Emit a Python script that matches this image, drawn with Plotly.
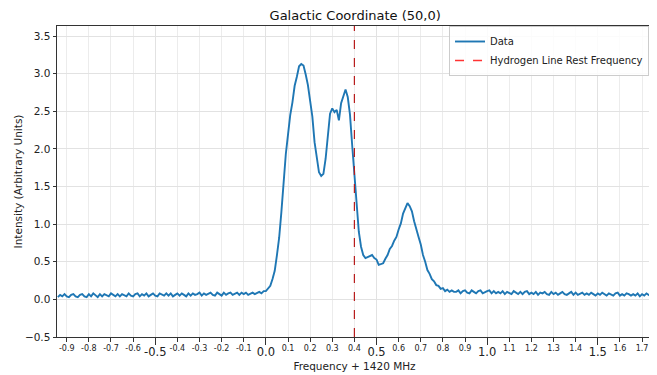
import numpy as np
import plotly.graph_objects as go

# ---- data ----
freq_start = -0.94
freq_step = 0.01
intensity = [
    # -0.94 .. -0.05
    0.03, 0.06, 0.04, 0.07, 0.04, 0.03, 0.06, 0.07, 0.04, 0.03,
    0.06, 0.07, 0.04, 0.03, 0.07, 0.04, 0.08, 0.05, 0.03, 0.07,
    0.04, 0.07, 0.05, 0.04, 0.08, 0.06, 0.04, 0.07, 0.04, 0.07,
    0.06, 0.04, 0.08, 0.05, 0.04, 0.07, 0.08, 0.04, 0.07, 0.05,
    0.08, 0.04, 0.06, 0.08, 0.05, 0.04, 0.08, 0.06, 0.05, 0.08,
    0.05, 0.08, 0.04, 0.06, 0.08, 0.05, 0.08, 0.06, 0.04, 0.08,
    0.05, 0.08, 0.06, 0.07, 0.09, 0.05, 0.08, 0.06, 0.07, 0.09,
    0.06, 0.05, 0.09, 0.07, 0.05, 0.09, 0.06, 0.08, 0.09, 0.06,
    0.07, 0.09, 0.06, 0.09, 0.07, 0.09, 0.06, 0.08, 0.09, 0.07,
    # -0.04 .. 0.85
    0.08, 0.10, 0.08, 0.11, 0.11, 0.15, 0.18, 0.27, 0.38, 0.59,
    0.82, 1.16, 1.57, 1.93, 2.19, 2.45, 2.62, 2.84, 2.96, 3.10,
    3.13, 3.11, 2.99, 2.85, 2.64, 2.43, 2.09, 1.85, 1.69, 1.64,
    1.67, 1.87, 2.19, 2.47, 2.54, 2.49, 2.52, 2.38, 2.61, 2.71,
    2.79, 2.69, 2.46, 2.05, 1.62, 1.25, 0.90, 0.70, 0.59, 0.55,
    0.56, 0.57, 0.59, 0.55, 0.53, 0.46, 0.47, 0.48, 0.54, 0.59,
    0.67, 0.71, 0.78, 0.83, 0.93, 1.01, 1.14, 1.21, 1.28, 1.24,
    1.17, 1.04, 0.95, 0.83, 0.73, 0.59, 0.50, 0.39, 0.34, 0.27,
    0.24, 0.19, 0.18, 0.14, 0.15, 0.11, 0.13, 0.10, 0.12, 0.10,
    # 0.86 .. 1.75
    0.10, 0.12, 0.08, 0.11, 0.12, 0.09, 0.08, 0.12, 0.10, 0.08,
    0.11, 0.12, 0.08, 0.10, 0.11, 0.12, 0.08, 0.11, 0.08, 0.10,
    0.08, 0.11, 0.07, 0.10, 0.09, 0.07, 0.11, 0.09, 0.07, 0.10,
    0.07, 0.10, 0.11, 0.07, 0.09, 0.07, 0.10, 0.06, 0.09, 0.08,
    0.10, 0.07, 0.06, 0.10, 0.07, 0.09, 0.06, 0.08, 0.10, 0.07,
    0.06, 0.08, 0.10, 0.06, 0.09, 0.06, 0.08, 0.09, 0.06, 0.08,
    0.06, 0.09, 0.07, 0.05, 0.08, 0.06, 0.09, 0.07, 0.05, 0.08,
    0.07, 0.05, 0.08, 0.09, 0.05, 0.07, 0.05, 0.08, 0.07, 0.05,
    0.07, 0.05, 0.08, 0.04, 0.07, 0.05, 0.08, 0.06, 0.04, 0.07,
]
frequency = np.round(freq_start + freq_step * np.arange(len(intensity)), 2)

rest_frequency = 0.4

minor_ticks = [-0.9, -0.8, -0.7, -0.6, -0.4, -0.3, -0.2, -0.1,
               0.1, 0.2, 0.3, 0.4, 0.6, 0.7, 0.8, 0.9,
               1.1, 1.2, 1.3, 1.4, 1.6, 1.7]
minor_labels = ["-0.9", "-0.8", "-0.7", "-0.6", "-0.4", "-0.3", "-0.2", "-0.1",
                "0.1", "0.2", "0.3", "0.4", "0.6", "0.7", "0.8", "0.9",
                "1.1", "1.2", "1.3", "1.4", "1.6", "1.7"]
major_ticks = [-0.5, 0.0, 0.5, 1.0, 1.5]
major_labels = ["-0.5", "0.0", "0.5", "1.0", "1.5"]
y_ticks = [-0.5, 0.0, 0.5, 1.0, 1.5, 2.0, 2.5, 3.0, 3.5]
y_labels = ["\u22120.5", "0.0", "0.5", "1.0", "1.5", "2.0", "2.5", "3.0", "3.5"]

FONT = "DejaVu Sans"
XR = [-0.944, 1.745]
YR = [-0.5, 3.635]

fig = go.Figure()
fig.add_trace(go.Scatter(
    x=frequency, y=intensity, mode="lines", name="Data",
    line=dict(color="#1f77b4", width=1.9), xaxis="x", yaxis="y"))
fig.add_trace(go.Scatter(
    x=[None], y=[None], mode="lines", name="Hydrogen Line Rest Frequency",
    line=dict(color="rgba(255,0,0,0.8)", width=1.3, dash="dash")))
# carrier for the major-tick axis (no visible marks)
fig.add_trace(go.Scatter(
    x=[None], y=[None], mode="lines", showlegend=False, hoverinfo="skip",
    xaxis="x2", yaxis="y"))

fig.add_shape(type="line", xref="x", yref="y domain",
              x0=rest_frequency, x1=rest_frequency, y0=0, y1=1,
              line=dict(color="#b81c1c", width=1.2, dash="dash"))

# page body has an 8px margin, so the figure is sized to fit the window
fig.update_layout(
    width=649, height=367,
    margin=dict(l=49, r=5, t=18, b=38),
    paper_bgcolor="white", plot_bgcolor="white",
    font=dict(family=FONT, color="#222222"),
    title=dict(text="Galactic Coordinate (50,0)", x=0.535, xanchor="center",
               y=0.981, yanchor="middle", font=dict(size=13, family=FONT, color="#111")),
    showlegend=True,
    legend=dict(x=0.995, y=1.0, xanchor="right", yanchor="top",
                bgcolor="rgba(255,255,255,0.85)", bordercolor="#cccccc", borderwidth=1,
                font=dict(size=10, family=FONT), tracegroupgap=0,
                itemwidth=30),
    xaxis=dict(
        range=XR, tickmode="array", tickvals=minor_ticks, ticktext=minor_labels,
        tickfont=dict(size=8, family=FONT), ticks="outside", ticklen=3.5,
        tickcolor="#333", showgrid=True, gridcolor="#ececec", gridwidth=1,
        showline=True, linecolor="#333", linewidth=1, mirror=True,
        zeroline=False, automargin=False,
        title=dict(text="Frequency + 1420 MHz", font=dict(size=10.5, family=FONT), standoff=10),
    ),
    xaxis2=dict(
        range=XR, overlaying="x", anchor="y", side="bottom",
        tickmode="array", tickvals=major_ticks, ticktext=major_labels,
        tickfont=dict(size=11.5, family=FONT), ticks="outside", ticklen=7,
        ticklabelstandoff=-3,
        tickcolor="#333", showgrid=True, gridcolor="#e2e2e2", gridwidth=1,
        zeroline=False, showline=False, automargin=False,
    ),
    yaxis=dict(
        range=YR, tickmode="array", tickvals=y_ticks, ticktext=y_labels,
        tickfont=dict(size=10.5, family=FONT), ticks="outside", ticklen=3.5,
        tickcolor="#333", showgrid=True, gridcolor="#e2e2e2", gridwidth=1,
        showline=True, linecolor="#333", linewidth=1, mirror=True,
        zeroline=False, automargin=False,
        title=dict(text="Intensity (Arbitrary Units)", font=dict(size=10.5, family=FONT), standoff=0),
    ),
)

fig.write_html("out.html")
